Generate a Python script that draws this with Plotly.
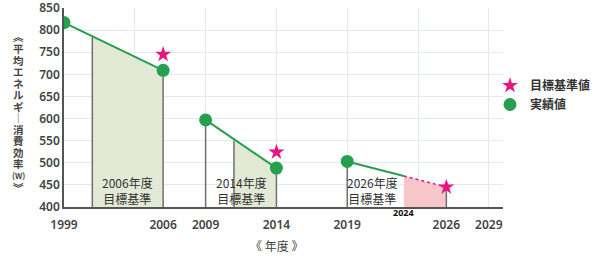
import plotly.graph_objects as go

# ---- data ----
actual_years = [1999, 2006, 2009, 2014, 2019]
actual_vals = [817, 709, 597, 488, 503]
target_years = [2006, 2014, 2026]
target_vals = [745, 524, 445]

# green trend segments (start/end)
seg_x = [[1999, 2006], [2009, 2014], [2019, 2023]]
seg_y = [[817, 709], [597, 488], [503, 470]]

# shaded "target standard" regions
fill_x0 = [2001, 2011, 2023]
fill_y0 = [788, 550, 470]
fill_x1 = [2006, 2014, 2026]
fill_y1 = [709, 488, 445]
fill_colors = ["#e2ead5", "#e2ead5", "#f7c6c9"]

region_labels = ["2006年度<br>目標基準", "2014年度<br>目標基準", "2026年度<br>目標基準"]
region_label_x = [2003.5, 2011.5, 2020.8]

xtick_vals = [1999, 2006, 2009, 2014, 2019, 2026, 2029]
xtick_text = ["1999", "2006", "2009", "2014", "2019", "2026", "2029"]
ytick_vals = [400, 450, 500, 550, 600, 650, 700, 750, 800, 850]

current_year_label = "2024"
current_year_x = 2023

ytitle_chars = ["︽", "平", "均", "エ", "ネ", "ル", "ギ", "｜", "消", "費", "効", "率", "(W)", "︾"]
xtitle = "《 年度 》"
legend_names = ["目標基準値", "実績値"]

GREEN = "#26a04e"
PINK = "#e8147f"
JP = "Noto Sans CJK JP"

L, R, T, B = 64, 95, 8, 51
W, H = 598 - L - R, 258 - T - B


def px_x(p):
    return (p - L) / W


def px_y(p):  # p measured from top of page
    return (258 - p - B) / H


fig = go.Figure()

# fills
for i in range(3):
    fig.add_trace(go.Scatter(
        x=[fill_x0[i], fill_x0[i], fill_x1[i], fill_x1[i]],
        y=[400, fill_y0[i], fill_y1[i], 400],
        fill="toself", fillcolor=fill_colors[i], mode="none",
        hoverinfo="skip", showlegend=False))

# gray vertical edges
vx, vy = [], []
for i in range(3):
    if i < 2:
        vx += [fill_x0[i], fill_x0[i], None]
        vy += [400, fill_y0[i], None]
    vx += [fill_x1[i], fill_x1[i], None]
    vy += [400, fill_y1[i], None]
for xx, yy in zip(actual_years, actual_vals):
    if xx in (2009, 2019):
        vx += [xx, xx, None]
        vy += [400, yy, None]
fig.add_trace(go.Scatter(x=vx, y=vy, mode="lines", line=dict(color="#6f6f6f", width=1.5),
                         hoverinfo="skip", showlegend=False))

# green segments
for sx, sy in zip(seg_x, seg_y):
    fig.add_trace(go.Scatter(x=sx, y=sy, mode="lines", line=dict(color=GREEN, width=2),
                             hoverinfo="skip", showlegend=False))

# dotted forecast line
fig.add_trace(go.Scatter(x=[fill_x0[2], fill_x1[2]], y=[fill_y0[2], fill_y1[2]], mode="lines",
                         line=dict(color=PINK, width=1.5, dash="dot"), showlegend=False))

# markers
fig.add_trace(go.Scatter(x=actual_years, y=actual_vals, mode="markers",
                         marker=dict(color=GREEN, size=13), name=legend_names[1], showlegend=False))
fig.add_trace(go.Scatter(x=target_years, y=target_vals, mode="markers",
                         marker=dict(color=PINK, size=12, symbol="star", line=dict(width=0)),
                         name=legend_names[0], showlegend=False))

# legend entries
fig.add_trace(go.Scatter(x=[None], y=[None], mode="markers",
                         marker=dict(color=PINK, size=12, symbol="star"), name=legend_names[0]))
fig.add_trace(go.Scatter(x=[None], y=[None], mode="markers",
                         marker=dict(color=GREEN, size=13), name=legend_names[1]))

annotations = []
for lx, txt in zip(region_label_x, region_labels):
    annotations.append(dict(x=lx, y=437, xref="x", yref="y", text=txt, showarrow=False,
                            font=dict(family=JP, size=12, color="#333"), align="center"))
annotations.append(dict(x=current_year_x, y=px_y(213), xref="x", yref="paper",
                        xanchor="center", yanchor="middle",
                        text="<b>" + current_year_label + "</b>", showarrow=False,
                        font=dict(family="Noto Sans", size=9, color="#111")))
annotations.append(dict(x=px_x(276), y=px_y(245), xref="paper", yref="paper", text=xtitle,
                        xanchor="center", yanchor="middle",
                        showarrow=False, font=dict(family=JP, size=12, color="#444")))

# vertical (tategaki-style) y-axis title, one glyph per slot
n = len(ytitle_chars)
top_px, bot_px = 37, 187
for k, ch in enumerate(ytitle_chars):
    ypx = top_px + (bot_px - top_px) * k / (n - 1)
    annotations.append(dict(x=px_x(18), y=px_y(ypx), xref="paper", yref="paper", text=ch,
                            xanchor="center", yanchor="middle", showarrow=False, height=11,
                            font=dict(family=JP, size=10.5 if ch != "(W)" else 8, color="#444",
                                      weight="bold")))

fig.update_layout(
    width=598, height=258, margin=dict(l=L, r=R, t=T, b=B, autoexpand=False),
    paper_bgcolor="white", plot_bgcolor="white",
    annotations=annotations,
    showlegend=True,
    legend=dict(x=px_x(490), y=px_y(71), xanchor="left", yanchor="top",
                font=dict(family=JP, size=12, color="#333", weight="bold"),
                itemwidth=30, tracegroupgap=0, bgcolor="rgba(0,0,0,0)"),
    xaxis=dict(range=[1999, 2030], tickvals=xtick_vals, ticktext=xtick_text,
               showgrid=False, zeroline=False, showline=True, linecolor="#555", linewidth=1.5,
               ticks="", ticklabelstandoff=6, ticklabeloverflow="allow",
               tickfont=dict(family="Noto Sans", size=12, color="#444", weight=600),
               minor=dict(tick0=1999, dtick=5, showgrid=True, gridcolor="#dfeaf3", gridwidth=1)),
    yaxis=dict(range=[400, 850], tickvals=ytick_vals, showgrid=True, gridcolor="#dfeaf3",
               zeroline=False, showline=True, linecolor="#555", linewidth=1.5, ticks="",
               ticklabeloverflow="allow",
               tickfont=dict(family="Noto Sans", size=12, color="#444", weight=600)),
)

fig.write_html("out.html")
